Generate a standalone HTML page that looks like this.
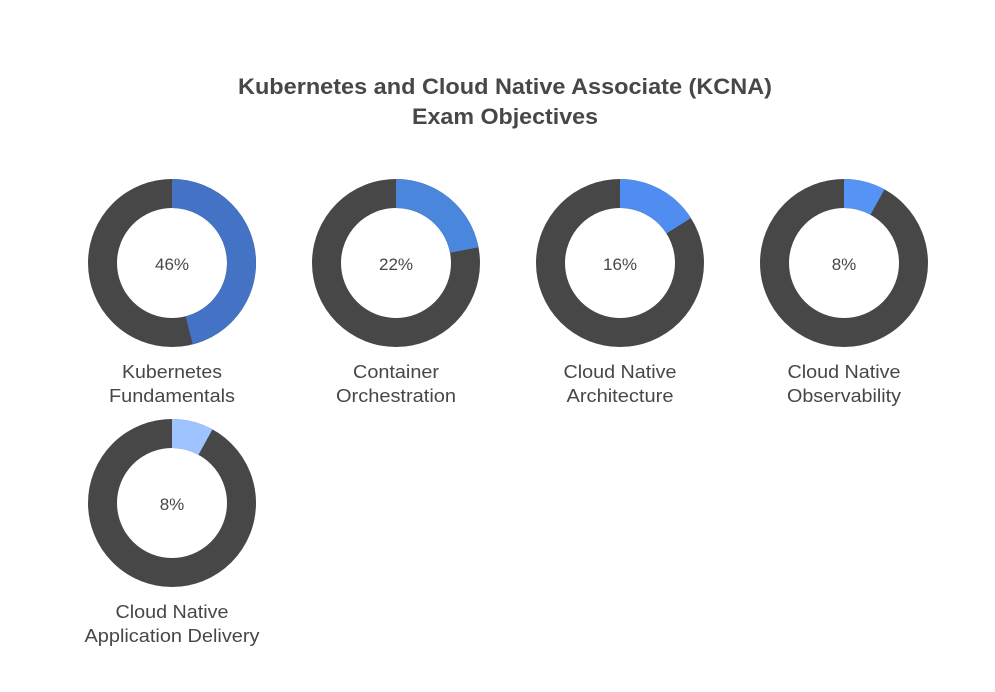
<!DOCTYPE html>
<html><head><style>
body{margin:0;background:#fff;}
svg{display:block;font-family:"Liberation Sans",Arial,sans-serif;}
</style></head><body>
<svg width="995" height="692" viewBox="0 0 995 692">
<rect width="995" height="692" fill="#fff"/>
<text x="505" y="94" text-anchor="middle" font-size="22" font-weight="bold" fill="#474747" textLength="534" lengthAdjust="spacingAndGlyphs">Kubernetes and Cloud Native Associate (KCNA)</text>
<text x="505" y="124" text-anchor="middle" font-size="22" font-weight="bold" fill="#474747" textLength="186" lengthAdjust="spacingAndGlyphs">Exam Objectives</text>
<g fill="none" stroke-width="29">
 <g transform="translate(172,263) rotate(-90)">
  <circle r="69.5" stroke="#474747"/>
  <circle r="69.5" stroke="#4472c4" stroke-dasharray="200.87 500"/>
 </g>
 <g transform="translate(396,263) rotate(-90)">
  <circle r="69.5" stroke="#474747"/>
  <circle r="69.5" stroke="#4a86db" stroke-dasharray="96.07 500"/>
 </g>
 <g transform="translate(620,263) rotate(-90)">
  <circle r="69.5" stroke="#474747"/>
  <circle r="69.5" stroke="#4f8ef0" stroke-dasharray="69.87 500"/>
 </g>
 <g transform="translate(844,263) rotate(-90)">
  <circle r="69.5" stroke="#474747"/>
  <circle r="69.5" stroke="#5594f5" stroke-dasharray="34.93 500"/>
 </g>
 <g transform="translate(172,503) rotate(-90)">
  <circle r="69.5" stroke="#474747"/>
  <circle r="69.5" stroke="#9ec3ff" stroke-dasharray="34.93 500"/>
 </g>
</g>
<g font-size="17" fill="#474747" text-anchor="middle">
 <text x="172" y="270">46%</text>
 <text x="396" y="270">22%</text>
 <text x="620" y="270">16%</text>
 <text x="844" y="270">8%</text>
 <text x="172" y="510">8%</text>
</g>
<g font-size="18" fill="#474747" text-anchor="middle" lengthAdjust="spacingAndGlyphs">
 <text x="172" y="378" textLength="100" lengthAdjust="spacingAndGlyphs">Kubernetes</text><text x="172" y="402" textLength="126" lengthAdjust="spacingAndGlyphs">Fundamentals</text>
 <text x="396" y="378" textLength="86" lengthAdjust="spacingAndGlyphs">Container</text><text x="396" y="402" textLength="120" lengthAdjust="spacingAndGlyphs">Orchestration</text>
 <text x="620" y="378" textLength="113" lengthAdjust="spacingAndGlyphs">Cloud Native</text><text x="620" y="402" textLength="107" lengthAdjust="spacingAndGlyphs">Architecture</text>
 <text x="844" y="378" textLength="113" lengthAdjust="spacingAndGlyphs">Cloud Native</text><text x="844" y="402" textLength="114" lengthAdjust="spacingAndGlyphs">Observability</text>
 <text x="172" y="618" textLength="113" lengthAdjust="spacingAndGlyphs">Cloud Native</text><text x="172" y="642" textLength="175" lengthAdjust="spacingAndGlyphs">Application Delivery</text>
</g>
</svg>
</body></html>
